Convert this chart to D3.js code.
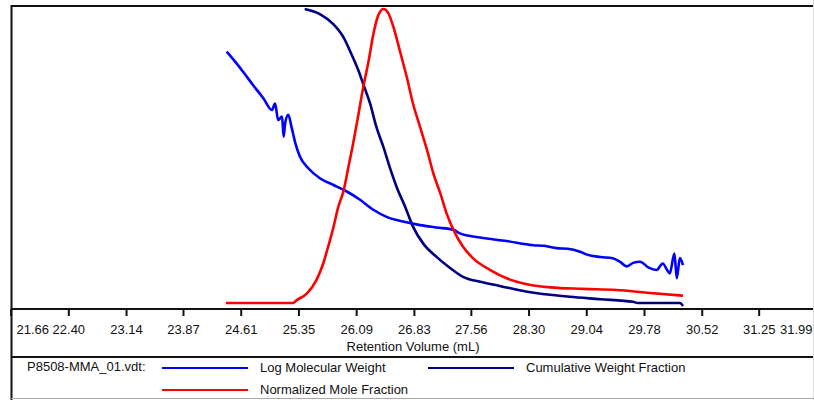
<!DOCTYPE html>
<html><head><meta charset="utf-8">
<script src="https://cdn.jsdelivr.net/npm/d3@7"></script>
<style>
body{margin:0;background:#fff;}
text{font-family:Arial,"Liberation Sans",sans-serif;fill:#111;}
</style></head>
<body><svg id="c" width="814" height="400"></svg>
<script>
// Retention volume tick labels
const tickLabels = ["21.66","22.40","23.14","23.87","24.61","25.35","26.09","26.83","27.56","28.30","29.04","29.78","30.52","31.25","31.99"];

// Log Molecular Weight [retention volume, log MW]
const logMW = [
 [24.43,6.26],[24.52,6.12],[24.64,5.92],[24.77,5.69],[24.90,5.47],[25.01,5.27],[25.05,5.38],[25.09,5.10],
 [25.14,5.16],[25.16,4.82],[25.18,5.05],[25.22,5.19],[25.26,4.99],[25.31,4.71],[25.37,4.48],[25.48,4.28],
 [25.63,4.11],[25.80,4.00],[25.97,3.89],[26.14,3.75],[26.31,3.58],[26.48,3.46],[26.69,3.38],[26.91,3.32],
 [27.12,3.28],[27.34,3.24],[27.42,3.18],[27.68,3.11],[28.02,3.05],[28.36,2.98],[28.50,2.97],[28.66,2.93],
 [28.80,2.92],[28.96,2.87],[29.05,2.82],[29.22,2.78],[29.38,2.76],[29.47,2.70],[29.56,2.62],[29.64,2.68],
 [29.73,2.70],[29.84,2.60],[29.94,2.56],[30.02,2.67],[30.08,2.55],[30.11,2.50],[30.17,2.84],
 [30.20,2.42],[30.24,2.76],[30.28,2.64]
];

// Cumulative Weight Fraction
const cumWeight = [
 [25.43,1.00],[25.63,0.982],[25.80,0.948],[25.93,0.903],[26.03,0.846],[26.12,0.790],[26.18,0.745],[26.27,0.677],
 [26.35,0.598],[26.44,0.530],[26.52,0.462],[26.61,0.394],[26.72,0.326],[26.82,0.259],[26.95,0.202],[27.12,0.157],
 [27.29,0.120],[27.46,0.089],[27.68,0.072],[27.93,0.058],[28.28,0.038],[28.83,0.021],[29.22,0.013],[29.64,0.004],
 [29.70,0.000],[30.24,0.000],[30.28,-0.010]
];

// Normalized Mole Fraction
const moleFrac = [
 [24.42,0.00],[25.28,0.00],[25.33,0.01],[25.46,0.033],[25.58,0.078],[25.67,0.136],[25.73,0.191],[25.80,0.259],
 [25.86,0.326],[25.93,0.383],[25.99,0.462],[26.05,0.541],[26.12,0.643],[26.18,0.733],[26.25,0.824],[26.31,0.914],
 [26.37,0.976],[26.44,1.00],[26.50,0.987],[26.57,0.937],[26.65,0.858],[26.74,0.767],[26.82,0.677],[26.91,0.598],
 [27.00,0.519],[27.08,0.440],[27.17,0.372],[27.25,0.304],[27.34,0.247],[27.46,0.191],[27.59,0.152],[27.81,0.112],
 [28.02,0.084],[28.28,0.064],[28.58,0.053],[29.00,0.048],[29.43,0.044],[29.82,0.035],[30.28,0.025]
];

const seriesNames = ["Log Molecular Weight","Cumulative Weight Fraction","Normalized Mole Fraction"];
const seriesColors = ["#0000ff","#000080","#ff0000"];
const fileLabel = "P8508-MMA_01.vdt:";
const axisTitle = "Retention Volume (mL)";

const svg = d3.select("#c");
const x = d3.scaleLinear().domain([+tickLabels[0], +tickLabels[tickLabels.length-1]]).range([10.6, 816.4]);
const yFrac = d3.scaleLinear().domain([0,1]).range([303, 9]);
const yLog = d3.scaleLinear().domain([2,7]).range([303, 8]);

// frame
svg.append("line").attr("x1",11).attr("x2",813).attr("y1",6).attr("y2",6).attr("stroke","#111").attr("stroke-width",2);
svg.append("line").attr("x1",11.5).attr("x2",11.5).attr("y1",5).attr("y2",400).attr("stroke","#111").attr("stroke-width",2);
svg.append("line").attr("x1",813.5).attr("x2",813.5).attr("y1",0).attr("y2",400).attr("stroke","#ddd").attr("stroke-width",1);
svg.append("line").attr("x1",11).attr("x2",814).attr("y1",398.5).attr("y2",398.5).attr("stroke","#aaa").attr("stroke-width",1);
svg.append("line").attr("x1",11).attr("x2",813).attr("y1",357).attr("y2",357).attr("stroke","#111").attr("stroke-width",2);

// x axis
const ax = svg.append("g").attr("transform","translate(0,309)")
  .call(d3.axisBottom(x).tickValues(tickLabels.map(Number)).tickFormat((d,i)=>tickLabels[i]).tickSize(7).tickPadding(9));
ax.select(".domain").remove();
ax.selectAll(".tick line").attr("stroke","#111").attr("stroke-width",2);
ax.selectAll(".tick text").attr("font-size",13).attr("font-family","Arial, 'Liberation Sans', sans-serif").attr("fill","#111");
ax.selectAll(".tick").filter((d,i)=>i===0).select("text").attr("text-anchor","start").attr("x",16-x(+tickLabels[0]));
ax.selectAll(".tick").filter((d,i)=>i===tickLabels.length-1).select("text").attr("text-anchor","end").attr("x",812-x(+tickLabels[tickLabels.length-1]));
svg.append("line").attr("x1",11).attr("x2",813).attr("y1",309).attr("y2",309).attr("stroke","#111").attr("stroke-width",2);
svg.append("text").attr("x",413).attr("y",351).attr("text-anchor","middle").attr("font-size",13).text(axisTitle);

// curves
const lineLog = d3.line().curve(d3.curveMonotoneX).x(d=>x(d[0])).y(d=>yLog(d[1]));
const lineFrac = d3.line().curve(d3.curveMonotoneX).x(d=>x(d[0])).y(d=>yFrac(d[1]));
svg.append("path").datum(cumWeight).attr("d",lineFrac).attr("fill","none").attr("stroke",seriesColors[1]).attr("stroke-width",2.6);
svg.append("path").datum(logMW).attr("d",lineLog).attr("fill","none").attr("stroke",seriesColors[0]).attr("stroke-width",2.6);
svg.append("path").datum(moleFrac).attr("d",lineFrac).attr("fill","none").attr("stroke",seriesColors[2]).attr("stroke-width",2.6);

// legend
svg.append("text").attr("x",27).attr("y",371).attr("font-size",13).text(fileLabel);
const leg = [
  {name:seriesNames[0], color:seriesColors[0], x:162, y:368},
  {name:seriesNames[1], color:seriesColors[1], x:428, y:368},
  {name:seriesNames[2], color:seriesColors[2], x:162, y:390}
];
leg.forEach(l=>{
  svg.append("line").attr("x1",l.x).attr("x2",l.x+86).attr("y1",l.y).attr("y2",l.y).attr("stroke",l.color).attr("stroke-width",2.2);
  svg.append("text").attr("x",l.x+98).attr("y",l.y+4).attr("font-size",13).text(l.name);
});
</script></body></html>
